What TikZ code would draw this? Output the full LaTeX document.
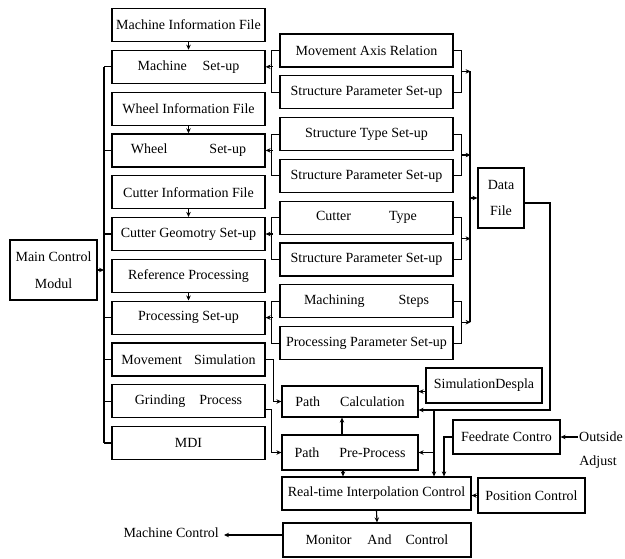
\documentclass[tikz,border=0pt]{standalone}
\usepackage{fontspec}
\setmainfont{Liberation Serif}
\usetikzlibrary{arrows.meta,calc}
\begin{document}
\begin{tikzpicture}[x=1pt,y=-1pt,
 box/.style={draw,line width=1.2pt,inner sep=1pt,font=\fontsize{14}{16}\selectfont,align=center},
 lbox/.style={box,minimum width=153pt,minimum height=33pt},
 mbox/.style={box,minimum width=173pt,minimum height=33pt},
 con/.style={line width=1.1pt},
 arr/.style={con,-{Stealth[length=5pt,width=4.5pt]}},
 lbl/.style={font=\fontsize{14}{16}\selectfont,inner sep=1pt}]
\useasboundingbox (0,0) rectangle (625,558);
% left column
\node[lbox] (mif) at (188.5,25) {Machine Information File};
\node[lbox] (ms) at (188.5,66.8) {Machine\hspace{16pt}Set-up};
\node[lbox] (wif) at (188.5,108.6) {Wheel Information File};
\node[lbox] (ws) at (188.5,150.4) {Wheel\hspace{42pt}Set-up};
\node[lbox] (cif) at (188.5,192.2) {Cutter Information File};
\node[lbox] (cg) at (188.5,234) {Cutter Geomotry Set-up};
\node[lbox] (rp) at (188.5,275.8) {Reference Processing};
\node[lbox] (ps) at (188.5,317.6) {Processing Set-up};
\node[lbox] (msim) at (188.5,359.4) {Movement\hspace{12pt}Simulation};
\node[lbox] (gp) at (188.5,401.2) {Grinding\hspace{14pt}Process};
\node[lbox] (mdi) at (188.5,443) {MDI};
% middle column
\node[mbox] (mar) at (366.5,50.5) {Movement Axis Relation};
\node[mbox] (sp1) at (366.5,92.3) {Structure Parameter Set-up};
\node[mbox] (sts) at (366.5,134.1) {Structure Type Set-up};
\node[mbox] (sp2) at (366.5,175.9) {Structure Parameter Set-up};
\node[mbox] (ct) at (366.5,217.7) {Cutter\hspace{38pt}Type};
\node[mbox] (sp3) at (366.5,259.5) {Structure Parameter Set-up};
\node[mbox] (mst) at (366.5,301.3) {Machining\hspace{34pt}Steps};
\node[mbox] (ppar) at (366.5,343.1) {Processing Parameter Set-up};
% others
\node[box,minimum width=87pt,minimum height=60pt,font=\fontsize{14}{27}\selectfont] (main) at (53.5,270) {Main Control\\Modul};
\node[box,minimum width=46pt,minimum height=60pt,font=\fontsize{14}{26}\selectfont] (df) at (501,198) {Data\\File};
\node[box,minimum width=116pt,minimum height=35pt] (sim) at (484,385.5) {SimulationDespla};
\node[box,minimum width=136pt,minimum height=31pt] (pc) at (350,401.5) {Path\hspace{20pt}Calculation};
\node[box,minimum width=136pt,minimum height=35pt] (pp) at (350,452.5) {Path\hspace{20pt}Pre-Process};
\node[box,minimum width=107pt,minimum height=34pt] (fc) at (506.5,437) {Feedrate Contro};
\node[box,minimum width=189pt,minimum height=33pt] (rt) at (376.5,493.5) {Real-time Interpolation Control};
\node[box,minimum width=107pt,minimum height=35pt] (pos) at (531.5,495.5) {Position Control};
\node[box,minimum width=188pt,minimum height=34pt] (mon) at (377,540) {Monitor\hspace{16pt}And\hspace{14pt}Control};
\node[lbl] (out) at (601,437) {Outside};
\node[lbl] (adj) at (598,462) {Adjust};
\node[lbl,anchor=east,inner sep=5pt] (mc) at (224,533) {Machine Control};
% left bus
\coordinate (lbT) at (104,66.8);
\coordinate (lbB) at (104,443);
\draw[con] (lbT) -- (lbB);
\foreach \n in {ms,ws,cg,ps,msim,gp,mdi} \draw[con] (\n.west -| lbT) -- (\n.west);
\draw[arr] (main.east) -- (main.east -| lbT);
% info files
\foreach \a/\b in {mif/ms,wif/ws,cif/cg,rp/ps} \draw[arr] (\a.south) -- (\b.north);
% brackets
\foreach \s/\a/\b in {ms/mar/sp1,ws/sts/sp2,cg/ct/sp3,ps/mst/ppar} {
  \draw[con] (\a.west) -- ++(-8,0) |- (\b.west);
  \draw[arr] ([xshift=7pt]\s.east) -- (\s.east);
}
\foreach \a/\b in {mar/sp1,sts/sp2,ct/sp3,mst/ppar} {
  \draw[con] (\a.east) -- ++(8,0) |- (\b.east);
  \draw[arr] ($(\a.east)!.5!(\b.east)+(8,0)$) -- ($(\a.east)!.5!(\b.east)+(17,0)$);
}
% right bus
\coordinate (rbT) at (470,71.4);
\coordinate (rbB) at (470,322.2);
\draw[con] (rbT) -- (rbB);
\draw[arr] (df.west -| rbT) -- (df.west);
% data file route
\coordinate (dr) at (550,410);
\coordinate (j1) at (434,410);
\draw[arr] ([yshift=-5pt]df.east) -| (dr) -- (pc.east |- dr);
\coordinate (s1) at ([yshift=-6pt]sim.west);
\draw[arr] (s1) -- (s1 -| pc.east);
\draw[arr] (j1) -- (j1 |- rt.north);
\draw[arr] (j1 |- pp.east) -- (pp.east);
\coordinate (fcd) at (444,0);
\draw[arr] (fc.west) -| (fcd |- rt.north);
\draw[arr] (out.west) -- (fc.east);
\draw[arr] (pos.west) -- (pos.west -| rt.east);
\draw[arr] (rt.south) -- (mon.north);
\coordinate (p1) at ([xshift=-7pt]pp.south);
\draw[arr] (p1) -- (p1 |- rt.north);
\coordinate (p2) at ([xshift=-8pt]pp.north);
\draw[arr] (p2) -- (p2 |- pc.south);
\coordinate (m1) at ([yshift=5pt]mon.west);
\draw[arr] (m1) -- (m1 -| mc.east);
% simulation and grinding
\draw[arr] (msim.east) -- ++(8,0) |- (pc.west);
\coordinate (g1) at ([yshift=-8pt]gp.east);
\draw[arr] (g1) -- ++(6,0) |- (pp.west);
\end{tikzpicture}
\end{document}
